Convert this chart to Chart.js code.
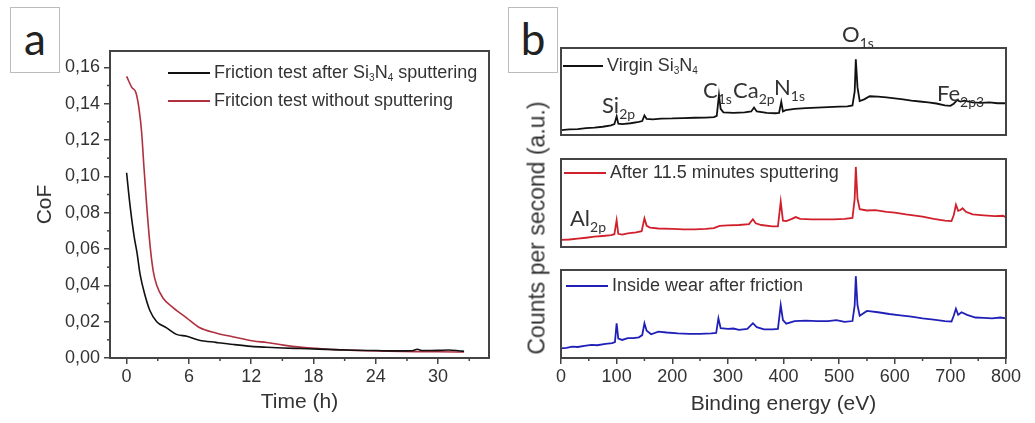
<!DOCTYPE html>
<html>
<head>
<meta charset="utf-8">
<script src="https://cdn.jsdelivr.net/npm/chart.js@4.4.1/dist/chart.umd.min.js"></script>
<style>
  body { margin:0; background:#fff; width:1035px; height:423px; position:relative; overflow:hidden; font-family:'Liberation Sans', Arial, sans-serif; color:#333; }
  .pane { position:absolute; }
  .tag { position:absolute; width:48px; height:64px; border:1px solid #bbb; font-family:Lato, sans-serif; font-size:44px; line-height:60px; text-align:center; color:#222; }
  .leg { position:absolute; font-size:18px; line-height:18px; white-space:nowrap; }
  .leg i { display:inline-block; width:42px; height:0; border-top:2px solid; vertical-align:middle; margin-right:4px; }
  .leg sub { font-size:10px; vertical-align:-3px; }
  .peak { position:absolute; font-family:Lato, sans-serif; font-size:22px; line-height:22px; white-space:nowrap; color:#333; }
  .peak sub { font-size:14px; vertical-align:-6px; }
  .ytitle { position:absolute; font-size:23px; white-space:nowrap; transform:translate(-50%,-50%) rotate(-90deg); }
</style>
</head>
<body>

<div class="tag" style="left:10px;top:7px;">a</div>
<div class="tag" style="left:508px;top:7px;">b</div>

<div class="pane" style="left:0;top:0;width:500px;height:423px;"><canvas id="ch-cof"></canvas></div>
<div class="pane" style="left:551px;top:38px;width:465px;height:107px;"><canvas id="ch-virgin"></canvas></div>
<div class="pane" style="left:551px;top:149px;width:465px;height:108px;"><canvas id="ch-sputter"></canvas></div>
<div class="pane" style="left:500px;top:260px;width:535px;height:163px;"><canvas id="ch-wear"></canvas></div>

<div class="leg" style="left:168px;top:63px;"><i style="color:#111"></i>Friction test after Si<sub>3</sub>N<sub>4</sub> sputtering</div>
<div class="leg" style="left:168px;top:91px;"><i style="color:#b03040"></i>Fritcion test without sputtering</div>

<div class="leg" style="left:563px;top:56px;"><i style="color:#111;width:40px"></i>Virgin Si<sub>3</sub>N<sub>4</sub></div>
<div class="leg" style="left:564px;top:163px;"><i style="color:#d0202c"></i>After 11.5 minutes sputtering</div>
<div class="leg" style="left:566px;top:276px;"><i style="color:#2020b8"></i>Inside wear after friction</div>

<div class="peak" style="left:602px;top:94px;">Si<sub>2p</sub></div>
<div class="peak" style="left:703px;top:79px;">C<sub>1s</sub></div>
<div class="peak" style="left:733px;top:79px;">Ca<sub>2p</sub></div>
<div class="peak" style="left:774px;top:76px;">N<sub>1s</sub></div>
<div class="peak" style="left:842px;top:23px;">O<sub>1s</sub></div>
<div class="peak" style="left:937px;top:82px;">Fe<sub>2p3</sub></div>
<div class="peak" style="left:570px;top:207px;">Al<sub>2p</sub></div>

<div class="ytitle" style="left:537px;top:228px;">Counts per second (a.u.)</div>

<script>
// (a) CoF vs time, [hours, CoF]
const afterSputtering = [[0,0.102],[0.25,0.088],[0.5,0.076],[0.75,0.066],[1,0.058],[1.3,0.046],[1.75,0.035],[2.25,0.026],[2.9,0.020],[3.85,0.0166],[4.8,0.013],[5.8,0.012],[7,0.0098],[8.6,0.0086],[10.3,0.0074],[12,0.0064],[13.5,0.0059],[15,0.0055],[16.7,0.0052],[18.5,0.0049],[20,0.0046],[22,0.0043],[24,0.0041],[26,0.0039],[27.5,0.004],[28,0.0048],[28.5,0.0041],[30,0.0042],[31,0.0044],[32,0.004],[32.5,0.0037]];
const withoutSputtering = [[0,0.155],[0.5,0.149],[0.9,0.146],[1.2,0.137],[1.45,0.124],[1.67,0.105],[1.92,0.085],[2.24,0.063],[2.56,0.048],[2.9,0.040],[3.5,0.033],[4.5,0.0276],[5.8,0.022],[7,0.0168],[8.6,0.0138],[10.3,0.0116],[12.2,0.0094],[13.5,0.0085],[15.1,0.0071],[16.7,0.006],[18.3,0.0053],[20,0.0046],[21.5,0.0043],[23,0.004],[24.7,0.0038],[26.5,0.0036],[28,0.0035],[30,0.0034],[32.5,0.0033]];
const timeTicks = [0, 6, 12, 18, 24, 30];
const timeMinor = [3, 9, 15, 21, 27, 33];
const cofTicks = [0, 0.02, 0.04, 0.06, 0.08, 0.10, 0.12, 0.14, 0.16];
const cofTickLabels = ['0,00','0,02','0,04','0,06','0,08','0,10','0,12','0,14','0,16'];
const cofMinor = [0.01, 0.03, 0.05, 0.07, 0.09, 0.11, 0.13, 0.15];

// (b) XPS survey spectra, [binding energy eV, counts a.u.]
const virginSi3N4 = [[0,5.5],[15,6.5],[30,6.8],[45,7.8],[60,8.5],[75,9.5],[90,11],[96,12.5],[100,21.5],[103,13],[110,12.5],[125,13.5],[140,15],[146,16],[150,22.5],[154,18.5],[165,18],[180,18.8],[200,19],[220,19.5],[240,19.8],[260,20],[275,20.5],[280,22],[284,46],[287,30],[292,26],[310,25.5],[330,26],[342,27],[347,31.5],[352,27],[370,25.5],[385,25],[392,25.5],[396,38],[399,27],[404,28.5],[420,30],[440,30.8],[460,31.5],[480,32],[500,32.5],[515,33],[524,34],[528,50],[530,87],[533,55],[537,39],[545,41],[555,44.5],[570,44],[585,43.2],[600,42],[615,41],[630,39.5],[645,38.5],[660,37.5],[675,36.2],[690,34],[700,33.5],[706,36],[712,40],[718,38.5],[725,39.5],[740,37.5],[755,37],[770,37.5],[785,36.5],[800,36.5]];
const sputtered = [[0,8],[15,8.5],[30,9.5],[45,10.5],[60,11.7],[75,12.5],[90,13.5],[96,14.5],[100,30.5],[103,15],[110,14],[120,15.5],[135,16.5],[145,18],[150,32.5],[154,24],[160,22],[175,21],[200,20.5],[220,20],[240,20],[260,20.5],[275,21.5],[285,24],[300,24.5],[320,25],[338,26],[345,31.5],[350,27],[360,25],[380,23.5],[390,23.5],[395,51.5],[399,30],[405,29.5],[415,32],[422,34],[430,32],[450,31.5],[470,31.5],[490,31.5],[510,32],[524,33],[528,55],[530,91],[533,55],[537,43],[550,41.5],[565,42],[585,40],[600,39],[620,37],[650,34.5],[670,32],[690,30],[702,29.5],[706,36],[710,48],[714,41],[718,42],[722,44],[728,40],[740,37],[760,36],[780,35],[795,35.5],[800,33.5]];
const insideWear = [[0,11],[10,11.5],[20,13],[30,12.5],[45,14],[55,15],[65,14.5],[80,16],[92,17],[97,18],[100,39.5],[103,22],[110,20.5],[120,22.5],[130,22.5],[140,23.5],[146,26],[150,39.5],[154,31],[162,27],[175,30],[190,29],[210,28],[230,27.5],[250,27.5],[270,28],[279,28.5],[283,45],[287,34],[300,33],[310,33.5],[320,32],[335,33],[345,39.5],[352,35],[365,32.5],[380,32.5],[390,33],[395,60],[399,43],[405,39],[420,42],[440,42.5],[460,42],[480,42],[495,43],[510,41],[524,42],[528,60],[530,93],[533,60],[537,48],[550,53.5],[570,52],[590,50],[610,48.5],[630,47],[650,45],[670,43.5],[690,42],[702,41.5],[706,48],[710,56],[714,49],[720,52],[730,49],[745,46],[760,45.5],[775,45],[790,46],[800,45]];
const energyTicks = [0, 100, 200, 300, 400, 500, 600, 700, 800];
const energyMinor = [50, 150, 250, 350, 450, 550, 650, 750];

Chart.defaults.font.family = "'Liberation Sans', Arial, sans-serif";
Chart.defaults.font.size = 18;
Chart.defaults.color = '#333';

const framePlugin = {
  id: 'frame',
  afterDraw(chart) {
    const { ctx, chartArea: a } = chart;
    ctx.save();
    ctx.strokeStyle = '#444';
    ctx.lineWidth = 2;
    ctx.strokeRect(a.left, a.top, a.right - a.left, a.bottom - a.top);
    ctx.restore();
  }
};

const minorTicksPlugin = {
  id: 'minorTicks',
  afterDraw(chart, args, opts) {
    const { ctx, chartArea: a, scales } = chart;
    ctx.save();
    ctx.strokeStyle = '#444';
    ctx.lineWidth = 1.5;
    (opts.x || []).forEach(v => {
      const px = scales.x.getPixelForValue(v);
      ctx.beginPath(); ctx.moveTo(px, a.bottom); ctx.lineTo(px, a.bottom + 3); ctx.stroke();
    });
    (opts.y || []).forEach(v => {
      const py = scales.y.getPixelForValue(v);
      ctx.beginPath(); ctx.moveTo(a.left, py); ctx.lineTo(a.left - 3, py); ctx.stroke();
    });
    ctx.restore();
  }
};

Chart.register(framePlugin, minorTicksPlugin);

const toXY = arr => arr.map(([x, y]) => ({ x, y }));
const tickGrid = { drawOnChartArea: false, drawTicks: true, tickLength: 6, color: '#444', lineWidth: 1.5 };

new Chart(document.getElementById('ch-cof'), {
  type: 'line',
  data: {
    datasets: [
      { label: 'Friction test after Si3N4 sputtering', data: toXY(afterSputtering), borderColor: '#111', borderWidth: 1.6, pointRadius: 0, cubicInterpolationMode: 'monotone' },
      { label: 'Fritcion test without sputtering', data: toXY(withoutSputtering), borderColor: '#b03040', borderWidth: 1.6, pointRadius: 0, cubicInterpolationMode: 'monotone' }
    ]
  },
  options: {
    responsive: true, maintainAspectRatio: false, animation: false,
    layout: { padding: { left: 28, top: 51, right: 11, bottom: 0 } },
    plugins: { legend: { display: false }, tooltip: { enabled: false }, minorTicks: { x: timeMinor, y: cofMinor } },
    scales: {
      x: {
        type: 'linear', min: -1.6, max: 34.9,
        afterBuildTicks: s => { s.ticks = timeTicks.map(v => ({ value: v })); },
        afterFit: s => { s.height = 65; },
        ticks: { autoSkip: false, maxRotation: 0, padding: 2, callback: v => String(v) },
        grid: tickGrid, border: { display: false },
        title: { display: true, text: 'Time (h)', font: { size: 21 }, padding: { top: 0, bottom: 8 } }
      },
      y: {
        min: 0, max: 0.169,
        afterBuildTicks: s => { s.ticks = cofTicks.map(v => ({ value: v })); },
        afterFit: s => { s.width = 82; },
        ticks: { autoSkip: false, padding: 4, callback: (v, i) => cofTickLabels[i] },
        grid: tickGrid, border: { display: false },
        title: { display: true, text: 'CoF', font: { size: 21 }, padding: { top: 5, bottom: 0 } }
      }
    }
  }
});

function spectrumChart(id, series, color, label, withAxis) {
  return new Chart(document.getElementById(id), {
    type: 'line',
    data: { datasets: [{ label, data: toXY(series), borderColor: color, borderWidth: 1.8, pointRadius: 0, tension: 0 }] },
    options: {
      responsive: true, maintainAspectRatio: false, animation: false,
      layout: { padding: withAxis ? { left: 61, top: 10, right: 29, bottom: 0 } : 10 },
      plugins: { legend: { display: false }, tooltip: { enabled: false }, minorTicks: withAxis ? { x: energyMinor } : {} },
      scales: {
        x: {
          type: 'linear', min: 0, max: 800, display: withAxis,
          afterBuildTicks: s => { s.ticks = energyTicks.map(v => ({ value: v })); },
          afterFit: s => { if (withAxis) s.height = 65; },
          ticks: { autoSkip: false, maxRotation: 0, padding: 2, callback: v => String(v) },
          grid: tickGrid, border: { display: false },
          title: { display: true, text: 'Binding energy (eV)', font: { size: 21 }, padding: { top: 0, bottom: 6 } }
        },
        y: { min: 0, max: 100, display: false }
      }
    }
  });
}

spectrumChart('ch-virgin', virginSi3N4, '#111', 'Virgin Si3N4', false);
spectrumChart('ch-sputter', sputtered, '#d0202c', 'After 11.5 minutes sputtering', false);
spectrumChart('ch-wear', insideWear, '#2020b8', 'Inside wear after friction', true);
</script>
</body>
</html>
